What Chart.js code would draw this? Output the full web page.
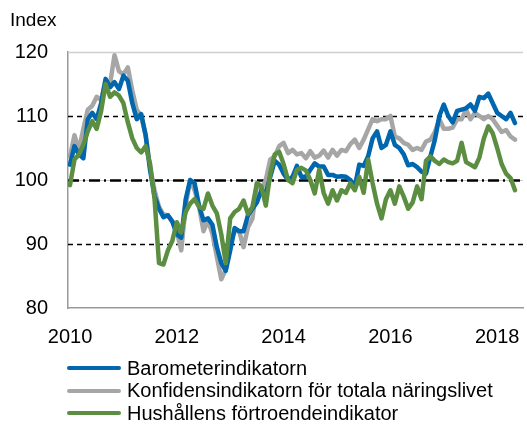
<!DOCTYPE html>
<html>
<head>
<meta charset="utf-8">
<script src="https://cdn.jsdelivr.net/npm/chart.js@4"></script>
<style>
  body { margin: 0; background: #fff; }
  #wrap { position: relative; width: 527px; height: 424px; font-family: "Liberation Sans", Arial, sans-serif; }
  #yTitle { position: absolute; left: 10px; top: 9px; font-size: 19px; color: #000; }
  #legend { position: absolute; left: 67px; top: 357px; }
  .row { display: flex; align-items: center; height: 22.5px; font-size: 20px; color: #000; white-space: nowrap; }
  .swatch { width: 54px; height: 4px; border-radius: 2px; margin-right: 6px; }
</style>
</head>
<body>
<div id="wrap">
  <canvas id="chart" width="527" height="424"></canvas>
  <div id="yTitle">Index</div>
  <div id="legend"></div>
</div>
<script>
// monthly values, Jan 2010 - May 2018
const barometer = [
  102.4, 105.3, 104, 103.4, 109.5, 110.5, 109.5, 112, 115.8, 114.5, 115.3, 114.2,
  116.3, 115.5, 112, 109.5, 110.3, 107, 101.5, 97.5, 95.5, 94.2, 94.5, 93.5,
  91.5, 91, 97, 100, 99.5, 96, 93.7, 94, 93, 89.5, 87, 85.8,
  89, 92.5, 92, 92, 94.5, 95.5, 96.5, 98.4, 98, 100.5, 103, 102.4,
  101, 100, 100.5, 102.2, 100.5, 100.5, 101.6, 102.6, 102.1, 102.1, 100.8, 100.8,
  100.5, 100.6, 100.5, 100, 98.9, 102.4, 102.2, 103.7, 106.5, 107.6, 105, 105.5,
  107.6, 105.5, 105, 104, 102.3, 102.5, 102, 101.3, 101, 103.7, 106.3, 110,
  111.8, 110, 109, 110.8, 111, 111.2, 111.8, 110.8, 113, 112.8, 113.5, 112,
  110.5, 110, 109.5, 110.5, 108.9
];
const konfidens = [
  103.7, 107, 104.7, 108, 111, 111.6, 113, 112.5, 115.5, 115, 119.5, 117,
  116.5, 117.6, 114, 111, 110, 107, 102, 98.4, 95.8, 94.6, 94.5, 93.5,
  92, 89, 96, 100, 98.4, 95.8, 92, 93.7, 91.6, 88, 84.5, 86,
  90, 92, 92, 89.5, 92.6, 94, 99.5, 98.5, 100, 103.2, 103.7, 105.3,
  105.8, 104.2, 104.7, 104, 104.2, 103.4, 104.5, 103.5, 103.8, 104.6, 103.5, 104.7,
  103.8, 104.7, 104.5, 105.6, 106.3, 105, 106.3, 107.9, 109.5, 109.2, 109.5, 109.5,
  110, 106.8, 106.5, 105.8, 105.5, 104.7, 105, 104.7, 106, 106.3, 107.5, 109.5,
  108, 108, 108.2, 109.5, 109.5, 111, 109.5, 110.5, 110, 109.5, 110, 109.5,
  108.5, 107.5, 107.8, 106.8, 106.3
];
const hushall = [
  99.2, 103.2, 104, 105.5, 107.6, 109.2, 108, 110.8, 115, 113, 113.7, 113.2,
  112, 109, 106.5, 105, 104.3, 105.3, 102.5, 97, 87, 86.8, 89, 90.5,
  93.4, 91.8, 95, 96.3, 97, 95.8, 95.5, 97.9, 96, 94.8, 91.5, 87,
  94, 95, 95.5, 96.8, 94.7, 95.8, 99.5, 99, 96, 101, 104, 104.4,
  102.5, 100, 99.5, 101.6, 101.9, 101.5, 100, 97.9, 101.6, 98, 96.3, 98.4,
  96.8, 98.4, 98, 99.5, 98.4, 100.5, 98, 103.2, 99.5, 96.3, 94, 97,
  98.4, 96.3, 99, 97.4, 95.5, 96.5, 99, 97, 103, 103.7, 103, 102.5,
  103.2, 102.8, 102.6, 103, 105.8, 102.8, 102.4, 102, 103.5, 106.5, 108.4, 107.3,
  105, 102.5, 101, 100.3, 98.4
];

const seriesNames = ['Barometerindikatorn', 'Konfidensindikatorn för totala näringslivet', 'Hushållens förtroendeindikator'];
const seriesColors = ['#0066ae', '#a6a6a6', '#5b8e41'];
const yearTicks = [0, 24, 48, 72, 96];
const yearLabels = ['2010', '2012', '2014', '2016', '2018'];
const yTicks = [80, 90, 100, 110, 120];

const toPoints = arr => arr.map((v, i) => ({ x: i, y: v }));

// dashed reference lines at 90/110, dash-dot at 100, top line at 120
const refLines = {
    id: 'refLines',
    beforeDatasetsDraw(chart) {
        const { ctx, chartArea: a, scales: { y } } = chart;
        const hline = (val, color, width, dash) => {
            const py = Math.round(y.getPixelForValue(val)) + 0.5;
            ctx.beginPath();
            ctx.strokeStyle = color;
            ctx.lineWidth = width;
            ctx.setLineDash(dash);
            ctx.moveTo(a.left, py);
            ctx.lineTo(a.right, py);
            ctx.stroke();
        };
        ctx.save();
        hline(120, '#cfcfcf', 1.5, []);
        hline(100, '#c8c8c8', 1, []);
        hline(110, '#000', 1.3, [5, 4]);
        hline(90, '#000', 1.3, [5, 4]);
        hline(100, '#000', 2.6, [11, 4, 2, 4]);
        ctx.restore();
    }
};

Chart.defaults.font.family = '"Liberation Sans", Arial, sans-serif';
Chart.defaults.color = '#000';

new Chart(document.getElementById('chart').getContext('2d'), {
    type: 'line',
    data: {
        datasets: [
            { label: seriesNames[0], data: toPoints(barometer), borderColor: seriesColors[0], order: 1 },
            { label: seriesNames[1], data: toPoints(konfidens), borderColor: seriesColors[1], order: 2 },
            { label: seriesNames[2], data: toPoints(hushall), borderColor: seriesColors[2], order: 0 }
        ]
    },
    options: {
        responsive: false,
        animation: false,
        events: [],
        elements: {
            line: { borderWidth: 4.5, tension: 0, borderJoinStyle: 'round', borderCapStyle: 'round' },
            point: { radius: 0 }
        },
        layout: { padding: { top: 52, right: 4, bottom: 76, left: 0 } },
        plugins: {
            legend: { display: false },
            tooltip: { enabled: false }
        },
        scales: {
            x: {
                type: 'linear',
                min: -0.45,
                max: 101.8,
                afterBuildTicks: scale => { scale.ticks = yearTicks.map(v => ({ value: v })); },
                afterFit: scale => {
                    scale.height = 40;
                    scale.paddingLeft = 0;
                    scale.paddingRight = 0;
                },
                ticks: {
                    font: { size: 20 },
                    padding: 17,
                    maxRotation: 0,
                    callback: (v) => yearLabels[yearTicks.indexOf(v)]
                },
                grid: { display: false, drawTicks: false },
                border: { color: '#9a9a9a', width: 1.5 }
            },
            y: {
                min: 80,
                max: 120,
                afterBuildTicks: scale => { scale.ticks = yTicks.map(v => ({ value: v })); },
                afterFit: scale => { scale.width = 68; },
                ticks: { font: { size: 20 }, padding: 20 },
                grid: { display: false, drawTicks: false },
                border: { color: '#9a9a9a', width: 1.5 }
            }
        }
    },
    plugins: [refLines]
});

// legend built from the same names/colours
const legend = document.getElementById('legend');
seriesNames.forEach((name, i) => {
    const row = document.createElement('div');
    row.className = 'row';
    row.innerHTML = '<span class="swatch" style="background:' + seriesColors[i] + '"></span><span>' + name + '</span>';
    legend.appendChild(row);
});
</script>
</body>
</html>
